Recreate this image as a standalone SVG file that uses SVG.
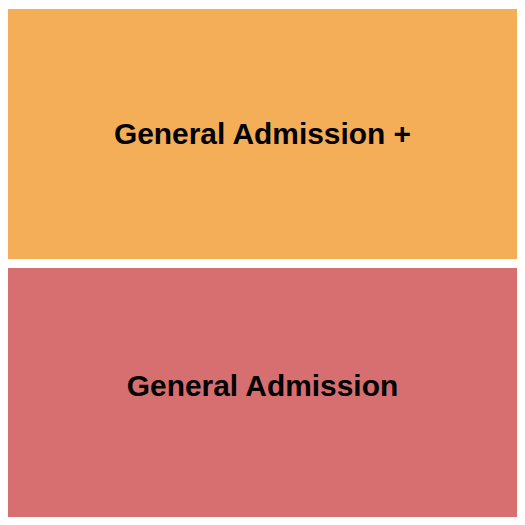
<svg xmlns="http://www.w3.org/2000/svg" width="525" height="525" viewBox="0 0 525 525">
<style>
.lbl{font-family:"Liberation Sans",Arial,sans-serif;font-weight:bold;font-size:29.9px;fill:#000;text-anchor:middle}
</style>
<rect width="525" height="525" fill="#ffffff"/>
<g id="ga-plus">
<rect x="8" y="9" width="509" height="250" fill="#F4AE58"/>
<text class="lbl" x="262.5" y="144">General Admission +</text>
</g>
<g id="ga">
<rect x="8" y="268" width="509" height="249" fill="#D76F70"/>
<text class="lbl" x="262.5" y="396">General Admission</text>
</g>
<g id="connectors"/>
</svg>
